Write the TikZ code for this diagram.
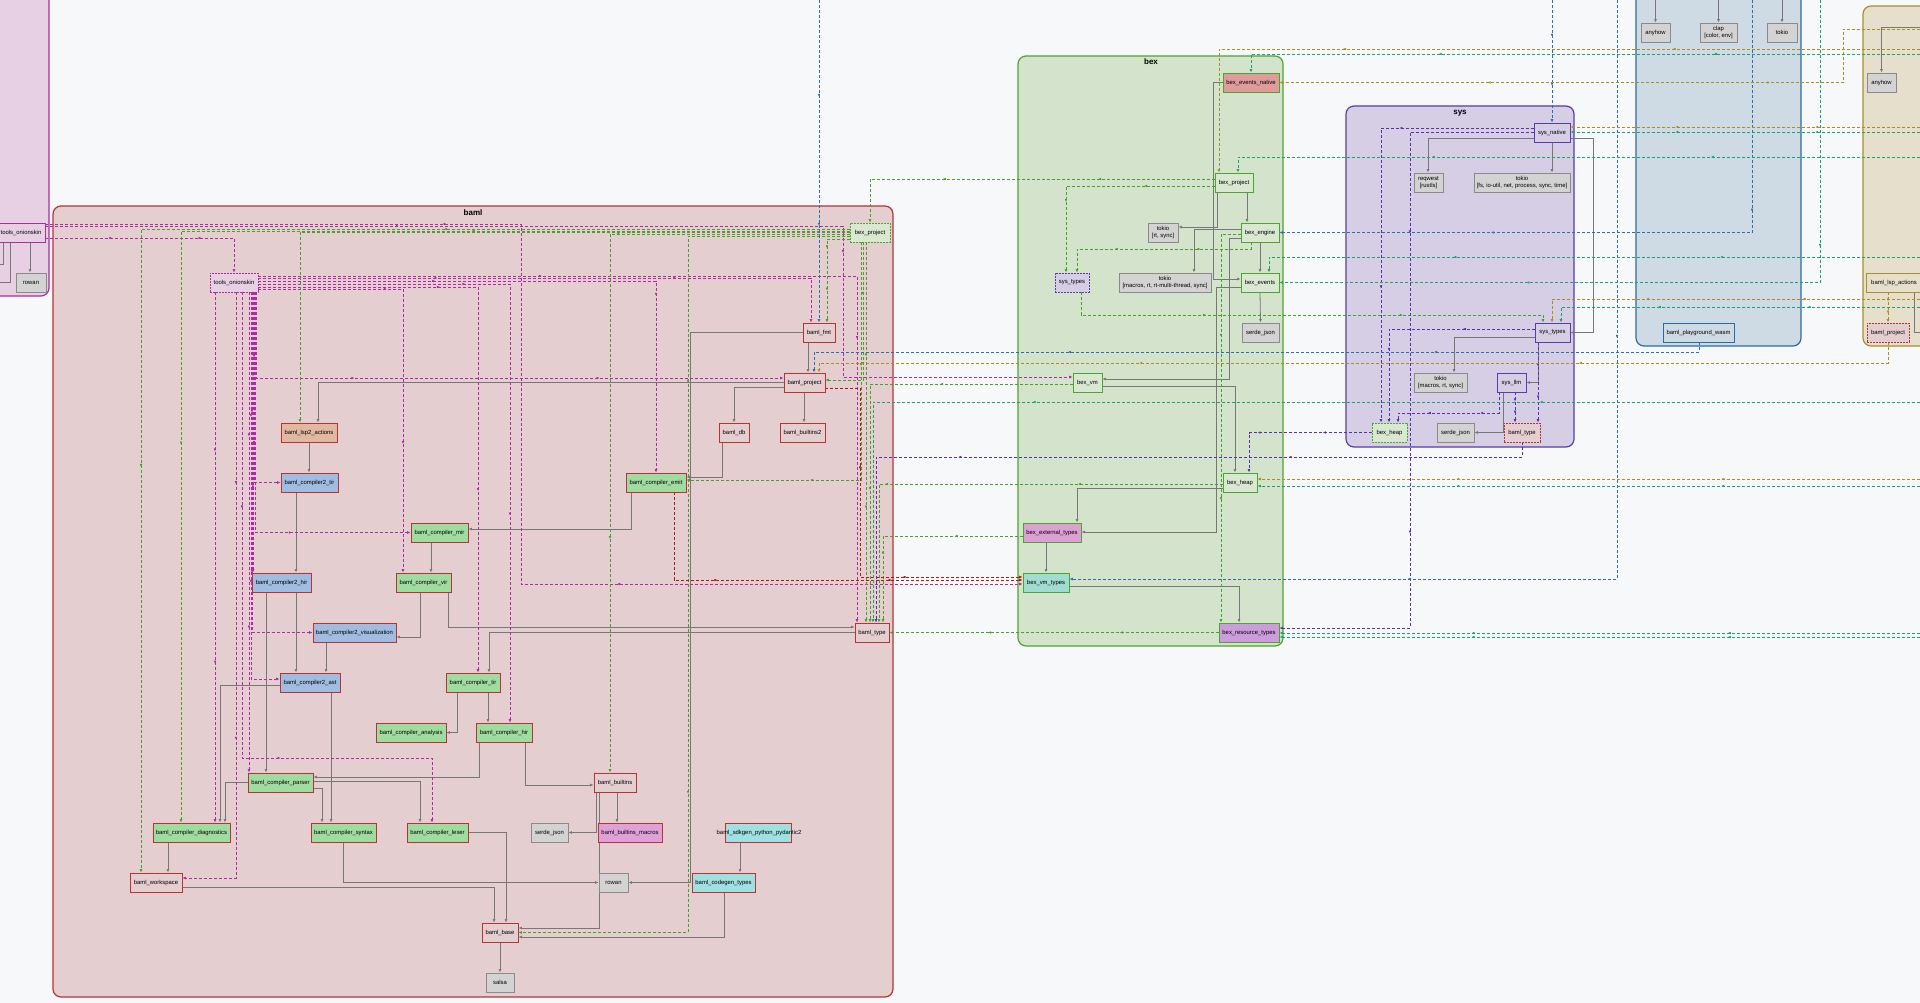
\documentclass[tikz,border=0pt]{standalone}
\usepackage{fontspec}
\setmainfont{Liberation Sans}
\usetikzlibrary{arrows.meta,decorations.markings}

\pgfdeclarelayer{back}
\pgfdeclarelayer{edges}
\pgfsetlayers{back,edges,main}

\definecolor{pagebg}{HTML}{F7F8FA}
\definecolor{bamlred}{HTML}{B83434}
\definecolor{bamlbg}{HTML}{E4CED0}
\definecolor{bexgreen}{HTML}{4EA52E}
\definecolor{bexbg}{HTML}{D4E4CC}
\definecolor{bexnode}{HTML}{D9E8D1}
\definecolor{syspurple}{HTML}{5B3BAE}
\definecolor{sysbg}{HTML}{D5CEE4}
\definecolor{cliblue}{HTML}{2A6BA6}
\definecolor{clibg}{HTML}{CFDBE4}
\definecolor{lspolive}{HTML}{A8902A}
\definecolor{lspbg}{HTML}{E6DFCC}
\definecolor{toolmag}{HTML}{A8309E}
\definecolor{toolbg}{HTML}{E8D0E4}
\definecolor{compgreen}{HTML}{A0DCA0}
\definecolor{compblue}{HTML}{A0BCE0}
\definecolor{peach}{HTML}{E2B8A0}
\definecolor{macropink}{HTML}{E0A0D8}
\definecolor{codecyan}{HTML}{A0E0E0}
\definecolor{nativered}{HTML}{E09C9C}
\definecolor{extviolet}{HTML}{DCA0D4}
\definecolor{resviolet}{HTML}{CC9CDC}
\definecolor{vmcyan}{HTML}{A0DCD0}
\definecolor{extgrey}{HTML}{D3D3D3}
\definecolor{extline}{HTML}{8A8A8A}
\definecolor{depgrey}{HTML}{777777}
\definecolor{edgemag}{HTML}{B02AA8}
\definecolor{edgegrn}{HTML}{46A02A}
\definecolor{edgepur}{HTML}{5A2FB0}
\definecolor{edgeblu}{HTML}{2A70B0}
\definecolor{edgeolv}{HTML}{A89020}
\definecolor{edgetel}{HTML}{1FA070}
\definecolor{edgered}{HTML}{B01818}

\newcommand\crfont{\fontsize{5.9}{7}\selectfont}

\tikzset{
  >={Latex[length=3.5pt,width=3pt]},
  box/.style={draw, line width=0.9pt, minimum height=19pt, inner xsep=1pt, inner ysep=1pt, align=center, font=\crfont},
  plainb/.style={box, draw=bamlred, fill=bamlbg},
  greenb/.style={box, draw=bamlred, fill=compgreen},
  blueb/.style={box, draw=bamlred, fill=compblue},
  extc/.style={box, draw=extline, fill=extgrey},
  bexb/.style={box, draw=bexgreen, fill=bexnode},
  sysb/.style={box, draw=syspurple, fill=sysbg},
  proxyb/.style={box, dash pattern=on 2pt off 1pt},
  clus/.style={rounded corners=8pt, line width=1.2pt},
  clustitle/.style={font=\bfseries\fontsize{8}{9}\selectfont},
  dep/.style={->, draw=depgrey, line width=0.8pt},
  flowmarks/.style={postaction={decorate,decoration={markings,
      mark=at position .3 with {\arrow{Latex[length=3pt,width=2.6pt]}},
      mark=at position .7 with {\arrow{Latex[length=3pt,width=2.6pt]}}}}},
  xdep/.style={->, color=#1, line width=0.7pt, dash pattern=on 3pt off 2pt, flowmarks},
  xmag/.style={xdep=edgemag},
  xgrn/.style={xdep=edgegrn},
  xpur/.style={xdep=edgepur},
  xblu/.style={xdep=edgeblu},
  xolv/.style={xdep=edgeolv},
  xtel/.style={xdep=edgetel},
  xred/.style={xdep=edgered}
}

\begin{document}
\begin{tikzpicture}[x=1pt,y=-1pt]
\useasboundingbox (0,0) rectangle (1920,1003);

% clusters
\begin{pgfonlayer}{back}
\fill[pagebg] (0,0) rectangle (1920,1003);
\filldraw[clus, fill=toolbg, draw=toolmag] (-20,-20) rectangle (49,296);
\filldraw[clus, fill=bamlbg, draw=bamlred] (53,206) rectangle (893,997);
\filldraw[clus, fill=bexbg, draw=bexgreen] (1018,56) rectangle (1283,646);
\filldraw[clus, fill=sysbg, draw=syspurple] (1346,106) rectangle (1574,447);
\filldraw[clus, fill=clibg, draw=cliblue] (1636,-20) rectangle (1801,346);
\filldraw[clus, fill=lspbg, draw=lspolive] (1863,6) rectangle (1960,346);
\end{pgfonlayer}
\node[clustitle] (bamltitle) at (473,213) {baml};
\node[clustitle] (bextitle) at (1151,62) {bex};
\node[clustitle] (systitle) at (1460,113) {sys};

% tools
\node[box, draw=toolmag, fill=toolbg, minimum width=48] (tonion_l) at (21,232.5) {tools\_onionskin};
\node[extc, minimum width=30] (rowan_l) at (31,282.5) {rowan};

% baml
\foreach \n/\x/\y/\w/\t in {fmt/819/332.5/32/baml\_fmt, project/804.5/382.5/41/baml\_project,
    db/734/432.5/30/baml\_db, builtins2/802.5/432.5/45/baml\_builtins2, btype/872/632.5/34/baml\_type,
    builtins/615/782.5/42/baml\_builtins, workspace/156/882.5/52/baml\_workspace, base/500/932.5/36/baml\_base}
    \node[plainb, minimum width=\w] (\n) at (\x,\y) {\t};
\foreach \n/\x/\y/\w/\t in {emit/656/482.5/60/baml\_compiler\_emit, mir/439.5/532.5/57/baml\_compiler\_mir,
    vir/423.5/582.5/55/baml\_compiler\_vir, ctir/473/682.5/54/baml\_compiler\_tir,
    analysis/411/732.5/70/baml\_compiler\_analysis, chir/504/732.5/56/baml\_compiler\_hir,
    parser/280.5/782.5/65/baml\_compiler\_parser, diag/191.5/832.5/77/baml\_compiler\_diagnostics,
    syntax/343.5/832.5/65/baml\_compiler\_syntax, lexer/437.5/832.5/61/baml\_compiler\_lexer}
    \node[greenb, minimum width=\w] (\n) at (\x,\y) {\t};
\foreach \n/\x/\y/\w/\t in {c2tir/309.5/482.5/57/baml\_compiler2\_tir, c2hir/281.5/582.5/59/baml\_compiler2\_hir,
    viz/354.5/632.5/83/baml\_compiler2\_visualization, c2ast/310/682.5/60/baml\_compiler2\_ast}
    \node[blueb, minimum width=\w] (\n) at (\x,\y) {\t};
\foreach \n/\x/\y/\w/\t in {serde_b/549.5/832.5/37/serde\_json, rowan_b/613.5/882.5/29/rowan, salsa/500/982.5/28/salsa}
    \node[extc, minimum width=\w] (\n) at (\x,\y) {\t};
\node[plainb, fill=peach, minimum width=56] (lsp2) at (309,432.5) {baml\_lsp2\_actions};
\node[plainb, fill=macropink, minimum width=64] (macros) at (630,832.5) {baml\_builtins\_macros};
\node[plainb, fill=codecyan, minimum width=63] (codegen) at (723.5,882.5) {baml\_codegen\_types};
\node[plainb, fill=codecyan, minimum width=66] (sdkgen) at (758,832.5) {};
\node[font=\crfont] (sdkgenlbl) at (759,832.5) {baml\_sdkgen\_python\_pydantic2};
\node[proxyb, draw=toolmag, fill=toolbg, minimum width=48] (tonion) at (234,282.5) {tools\_onionskin};
\node[proxyb, draw=bexgreen, fill=bexnode, minimum width=40] (bexproj_b) at (870,232.5) {bex\_project};

% bex
\foreach \n/\x/\y/\w/\t in {bexproj/1234/182.5/38/bex\_project, engine/1260/232.5/38/bex\_engine,
    events/1260/282.5/38/bex\_events, vm/1087.5/382.5/29/bex\_vm, heap/1240/482.5/34/bex\_heap}
    \node[bexb, minimum width=\w] (\n) at (\x,\y) {\t};
\node[bexb, fill=nativered, minimum width=56] (native) at (1251,82.5) {bex\_events\_native};
\node[bexb, fill=extviolet, minimum width=58] (ext) at (1052,532.5) {bex\_external\_types};
\node[bexb, fill=vmcyan, minimum width=46] (vmtypes) at (1046,582.5) {bex\_vm\_types};
\node[bexb, fill=resviolet, minimum width=60] (restypes) at (1249,632.5) {bex\_resource\_types};
\foreach \n/\x/\y/\w/\t in {tokio_a/1163/232.5/30/{tokio\\{[rt, sync]}},
    tokio_b/1165/282.5/92/{tokio\\{[macros, rt, rt-multi-thread, sync]}}, serde_x/1260.5/332.5/37/serde\_json}
    \node[extc, minimum width=\w] (\n) at (\x,\y) {\t};
\node[proxyb, draw=syspurple, fill=sysbg, minimum width=34] (systypes_x) at (1072,282.5) {sys\_types};

% sys
\foreach \n/\x/\y/\w/\t in {sysnative/1552/132.5/36/sys\_native, systypes/1552.5/332.5/35/sys\_types,
    llm/1511.5/382.5/29/sys\_llm}
    \node[sysb, minimum width=\w] (\n) at (\x,\y) {\t};
\foreach \n/\x/\y/\w/\t in {reqwest/1428.5/182.5/29/{reqwest\\{[rustls]}},
    tokio_c/1522/182.5/96/{tokio\\{[fs, io-util, net, process, sync, time]}},
    tokio_d/1440.5/382.5/53/{tokio\\{[macros, rt, sync]}}, serde_s/1455.5/432.5/37/serde\_json}
    \node[extc, minimum width=\w] (\n) at (\x,\y) {\t};
\node[proxyb, draw=bexgreen, fill=bexnode, minimum width=35] (heap_x) at (1389.5,432.5) {bex\_heap};
\node[proxyb, draw=bamlred, fill=bamlbg, minimum width=36] (btype_x) at (1522,432.5) {baml\_type};

% cli + lsp
\foreach \n/\x/\y/\w/\t in {anyhow_a/1655.5/32.5/29/anyhow, clap/1718.5/32.5/37/{clap\\{[color, env]}},
    tokio_e/1782/32.5/30/tokio, anyhow_b/1881.5/82.5/29/anyhow}
    \node[extc, minimum width=\w] (\n) at (\x,\y) {\t};
\node[box, draw=cliblue, fill=clibg, minimum width=71] (wasm) at (1698.5,332.5) {baml\_playground\_wasm};
\node[box, draw=lspolive, fill=lspbg, minimum width=55] (lspact) at (1894,282.5) {baml\_lsp\_actions};
\node[proxyb, draw=bamlred, fill=bamlbg, minimum width=42] (bproj_t) at (1888,332.5) {baml\_project};

% loose ends
\foreach \n/\x/\y in {upfmt/819/0, upeng/1752/0, upvmt/1617/0, upnat/1552/0, upev/1820/0,
    upany/1655.5/0, upclap/1718.5/0, uptok/1782/0, lfA/0/264, lfB/0/282,
    rtA/1920/49, rtB/1920/29, rtC/1920/127, rtD/1920/299, rtE/1920/479, rtF/1920/54,
    rtG/1920/157, rtH/1920/257, rtI/1920/132, rtJ/1920/307, rtK/1920/402, rtL/1920/486,
    rtM/1920/637, rtN/1920/633, rtO/1920/27, rtP/1920/332}
    \coordinate (\n) at (\x,\y);

\begin{pgfonlayer}{edges}
% solid, inside clusters
\draw[dep] (30,0 |- tonion_l.south) -- (30,0 |- rowan_l.north);
\draw[dep,-] (3,0 |- tonion_l.south) |- (lfA);
\draw[dep,-] (10,0 |- tonion_l.south) |- (lfB);
\draw[dep] (808,0 |- fmt.south) -- (808,0 |- project.north);
\draw[dep] (fmt.west) -| (690,0 |- rowan_b.east) -- (rowan_b.east);
\draw[dep] (722,0 |- db.south) |- (emit.east |- 0,477);
\draw[dep] (project.west |- 0,387) -| (734,0 |- db.north);
\draw[dep] (804,0 |- project.south) -- (804,0 |- builtins2.north);
\draw[dep] (project.west |- 0,382) -| (318,0 |- lsp2.north);
\draw[dep] (309,0 |- lsp2.south) -- (309,0 |- c2tir.north);
\draw[dep] (631,0 |- emit.south) |- (mir.east |- 0,529);
\draw[dep] (296,0 |- c2tir.south) -- (296,0 |- c2hir.north);
\draw[dep] (431,0 |- mir.south) -- (431,0 |- vir.north);
\draw[dep] (420,0 |- vir.south) |- (viz.east |- 0,637);
\draw[dep] (448,0 |- vir.south) |- (btype.west |- 0,627);
\draw[dep] (btype.west |- 0,632) -| (489,0 |- ctir.north);
\draw[dep] (296,0 |- c2hir.south) -- (296,0 |- c2ast.north);
\draw[dep] (266,0 |- c2hir.south) -- (266,0 |- parser.north);
\draw[dep] (326,0 |- viz.south) -- (326,0 |- c2ast.north);
\draw[dep] (c2ast.west |- 0,685) -| (220,0 |- diag.north);
\draw[dep] (331,0 |- c2ast.south) -- (331,0 |- syntax.north);
\draw[dep] (457,0 |- ctir.south) |- (analysis.east);
\draw[dep] (488,0 |- ctir.south) -- (488,0 |- chir.north);
\draw[dep] (479,0 |- chir.south) |- (parser.east |- 0,777);
\draw[dep] (525,0 |- chir.south) |- (builtins.west |- 0,785);
\draw[dep] (parser.east |- 0,788) -| (322,0 |- syntax.north);
\draw[dep] (parser.east |- 0,781) -| (420,0 |- lexer.north);
\draw[dep] (parser.west) -| (225,0 |- diag.north);
\draw[dep] (168,0 |- diag.south) -- (168,0 |- workspace.north);
\draw[dep] (workspace.east |- 0,887) -| (494,0 |- base.north);
\draw[dep] (lexer.east) -| (506,0 |- base.north);
\draw[dep] (343,0 |- syntax.south) |- (rowan_b.west);
\draw[dep] (596,0 |- builtins.south) |- (serde_b.east);
\draw[dep] (617,0 |- builtins.south) -- (617,0 |- macros.north);
\draw[dep] (599,0 |- builtins.south) |- (base.east |- 0,928);
\draw[dep] (740,0 |- sdkgen.south) -- (740,0 |- codegen.north);
\draw[dep] (724,0 |- codegen.south) |- (base.east |- 0,937);
\draw[dep] (base) -- (salsa);
\draw[dep] (native.west) -| (1213,279) -- (events.west |- 0,279);
\draw[dep] (1247,0 |- bexproj.south) -- (1247,0 |- engine.north);
\draw[dep] (1217,0 |- bexproj.south) |- (tokio_a.east |- 0,227);
\draw[dep] (engine.west |- 0,229) -| (1194,0 |- tokio_b.north);
\draw[dep] (1260,0 |- engine.south) -- (1260,0 |- events.north);
\draw[dep] (engine.west |- 0,238) -| (1229,379) -- (vm.east |- 0,379);
\draw[dep] (events.south) -- (serde_x.north);
\draw[dep] (events.west |- 0,287) -| (1216,532) -- (ext.east |- 0,532);
\draw[dep] (vm.east |- 0,386) -| (1235,0 |- heap.north);
\draw[dep] (heap.west |- 0,488) -| (1077,0 |- ext.north);
\draw[dep] (1046,0 |- ext.south) -- (1046,0 |- vmtypes.north);
\draw[dep] (vmtypes.east |- 0,586) -| (1239,0 |- restypes.north);
\draw[dep] (sysnative.west |- 0,138) -| (1428,0 |- reqwest.north);
\draw[dep] (sysnative.south) -- (sysnative.south |- tokio_c.north);
\draw[dep] (sysnative.east |- 0,138) -| (1593,0 |- systypes.east) -- (systypes.east);
\draw[dep] (1538,0 |- systypes.south) |- (llm.east);
\draw[dep] (systypes.west |- 0,337) -| (1454,0 |- tokio_d.north);
\draw[dep] (1503,0 |- llm.south) |- (serde_s.east);
\draw[dep] (upany) -- (anyhow_a.north);
\draw[dep] (upclap) -- (clap.north);
\draw[dep] (uptok) -- (tokio_e.north);
\draw[dep] (rtO) -| (anyhow_b.north);
\draw[dep,-] (1914,0 |- lspact.south) |- (rtP);

% tools_onionskin
\draw[xmag] (tonion_l.east |- 0,238) -| (tonion.north);
\draw[xmag] (tonion_l.east |- 0,226) -| (843,377) -- (vm.west |- 0,377);
\draw[xmag] (tonion_l.east |- 0,224) -| (521,584) -- (vmtypes.west |- 0,584);
\draw[xmag] (tonion.east |- 0,276) -| (857,0 |- btype.north);
\draw[xmag] (tonion.east |- 0,278) -| (811,0 |- fmt.north);
\draw[xmag] (tonion.east |- 0,281) -| (656,0 |- emit.north);
\draw[xmag] (tonion.east |- 0,284) -| (510,0 |- chir.north);
\draw[xmag] (tonion.east |- 0,287) -| (478,0 |- ctir.north);
\draw[xmag] (tonion.east |- 0,289) -| (403,0 |- vir.north);
\draw[xmag] (256,0 |- tonion.south) |- (project.west |- 0,378);
\draw[xmag] (254,0 |- tonion.south) |- (c2tir.west);
\draw[xmag] (255,0 |- tonion.south) |- (mir.west);
\draw[xmag] (252,0 |- tonion.south) |- (viz.west);
\draw[xmag] (251,0 |- tonion.south) |- (c2ast.west |- 0,679);
\draw[xmag] (253,0 |- tonion.south) -- (253,0 |- c2hir.north);
\draw[xmag] (249,0 |- tonion.south) -- (249,0 |- parser.north);
\draw[xmag] (242,0 |- tonion.south) |- (432,758) -- (432,0 |- lexer.north);
\draw[xmag] (236,0 |- tonion.south) |- (workspace.east |- 0,878);
\draw[xmag] (215,0 |- tonion.south) -- (215,0 |- diag.north);

% bex
\draw[xgrn] (bexproj.west |- 0,179) -| (870,0 |- bexproj_b.north);
\draw[xgrn] (bexproj.west |- 0,186) -| (1066,0 |- systypes_x.north);
\draw[xgrn] (1251,0 |- engine.south) |- (1077,249) -- (1077,0 |- systypes_x.north);
\draw[xgrn] (engine.west |- 0,234) -| (1221,0 |- restypes.north);
\draw[xgrn] (1081,0 |- systypes_x.south) |- (1543,315) -- (1543,0 |- systypes.north);
\draw[xgrn] (bexproj_b.west |- 0,229) -| (141,0 |- workspace.north);
\draw[xgrn] (bexproj_b.west |- 0,231) -| (181,0 |- diag.north);
\draw[xgrn] (bexproj_b.west |- 0,232) -| (300,0 |- lsp2.north);
\draw[xgrn] (bexproj_b.west |- 0,234) -| (610,0 |- builtins.north);
\draw[xgrn] (bexproj_b.west |- 0,236) -| (688,0 |- base.east) -- (base.east);
\draw[xgrn] (bexproj_b.west |- 0,239) -| (827,0 |- fmt.north);
\draw[xgrn] (863,0 |- bexproj_b.south) |- (project.east |- 0,380);
\draw[xgrn] (861,0 |- bexproj_b.south) |- (emit.east |- 0,480);
\draw[xgrn] (866,0 |- bexproj_b.south) -- (866,0 |- btype.north);
\draw[xgrn] (vm.west |- 0,384) -| (870,0 |- btype.north);
\draw[xgrn] (heap.west |- 0,484) -| (879,0 |- btype.north);
\draw[xgrn] (ext.west |- 0,536) -| (883,0 |- btype.north);
\draw[xgrn] (restypes.west) -- (btype.east);

% red
\draw[xred] (project.east |- 0,388) -| (860,577) -- (vmtypes.west |- 0,577);
\draw[xred] (674,0 |- emit.south) |- (vmtypes.west |- 0,580);

% sys
\draw[xpur] (sysnative.west |- 0,128) -| (1381,0 |- heap_x.north);
\draw[xpur] (sysnative.west |- 0,132) -| (1410,628) -- (restypes.east |- 0,628);
\draw[xpur] (systypes.west |- 0,329) -| (1389,0 |- heap_x.north);
\draw[xpur] (1538,0 |- systypes.south) -- (1538,0 |- btype_x.north);
\draw[xpur] (1499,0 |- llm.south) |- (1398,413) -- (1398,0 |- heap_x.north);
\draw[xpur] (1515,0 |- llm.south) -- (1515,0 |- btype_x.north);
\draw[xpur] (heap_x.west) -| (1249,0 |- heap.north);
\draw[xpur] (1522,0 |- btype_x.south) |- (876,457) -- (876,0 |- btype.north);

% cli
\draw[xblu] (upfmt) -- (819,0 |- fmt.north);
\draw[xblu] (1699,0 |- wasm.south) |- (814,352) -- (814,0 |- project.north);
\draw[xblu] (upeng) |- (engine.east);
\draw[xblu] (upvmt) |- (vmtypes.east |- 0,579);
\draw[xblu] (upnat) -- (sysnative.north);

% lsp
\draw[xolv] (rtA) -| (1219,0 |- bexproj.north);
\draw[xolv] (rtB) -| (1843,0 |- native.east) -- (native.east);
\draw[xolv] (rtC) -- (sysnative.east |- 0,127);
\draw[xolv] (rtD) -| (1552,0 |- systypes.north);
\draw[xolv] (rtE) -- (heap.east |- 0,479);
\draw[xolv] (1888,0 |- bproj_t.south) |- (819,363) -- (819,0 |- project.north);
\draw[xolv] (1888,0 |- lspact.south) -- (bproj_t.north);
\draw[xtel] (rtF) -| (native.north);
\draw[xtel] (upev) |- (events.east);
\draw[xtel] (rtG) -| (1238,0 |- bexproj.north);
\draw[xtel] (rtH) -| (1269,0 |- events.north);
\draw[xtel] (rtI) -- (sysnative.east |- 0,132);
\draw[xtel] (rtJ) -| (1561,0 |- systypes.north);
\draw[xtel] (rtK) -| (873,0 |- btype.north);
\draw[xtel] (rtL) -- (heap.east |- 0,486);
\draw[xtel] (rtM) -- (restypes.east |- 0,637);
\draw[xtel] (rtN) -- (restypes.east |- 0,633);
\end{pgfonlayer}
\end{tikzpicture}
\end{document}
